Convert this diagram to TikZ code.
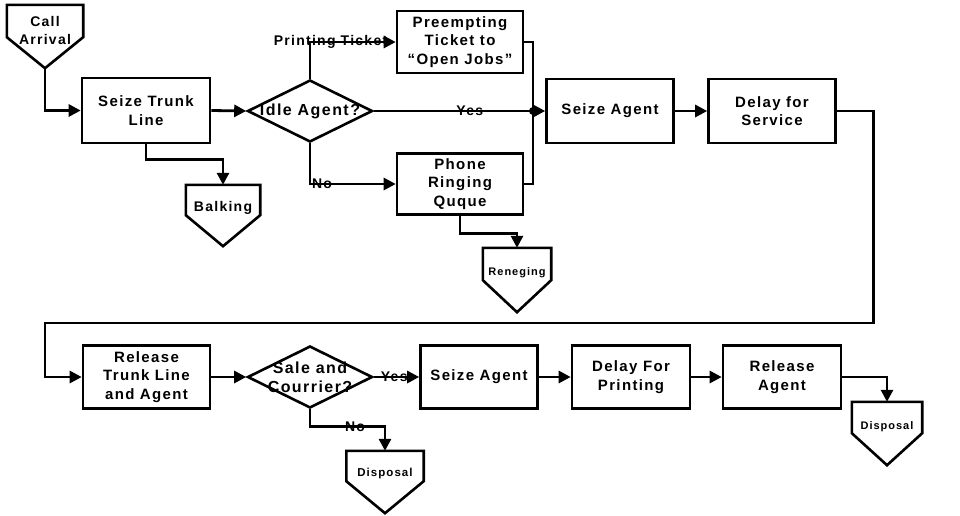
\documentclass[tikz,border=0pt]{standalone}
\usepackage{fontspec}
\setmainfont{Liberation Sans}[LetterSpace=9]
\usetikzlibrary{shapes.geometric,arrows.meta}

\tikzset{
    box/.style={rectangle,draw,line width=2.6pt,minimum width=127pt,minimum height=64pt,inner sep=0pt,align=center,font=\fontsize{15}{18.5}\selectfont\bfseries},
    dia/.style={diamond,draw,line width=2.6pt,minimum width=125pt,minimum height=62pt,inner sep=0pt},
    dtext/.style={align=center,inner sep=0pt,font=\fontsize{16}{19}\selectfont\bfseries},
    pent/.style={rectangle,inner sep=0pt},
    ptext/.style={align=center,inner sep=0pt,font=\fontsize{14}{18}\selectfont\bfseries},
    outline/.style={line width=2.6pt,line join=miter},
    flow/.style={line width=2.8pt,-{Triangle[length=12pt,width=12pt]}},
    lbl/.style={inner sep=0pt,font=\fontsize{14}{14}\selectfont\bfseries}
}

\begin{document}
\begin{tikzpicture}[x=1pt,y=-1pt]
    \fill[white] (0,0) rectangle (960,515);
    \useasboundingbox (0,0) rectangle (960,515);

    % first row
    \node[pent,minimum width=76pt,minimum height=63pt,label={[ptext,yshift=6.5pt]center:{Call\\Arrival}}] (arrival) at (45,36.5) {};
    \draw[outline] (arrival.north west) -- (arrival.north east) -- ([yshift=31pt]arrival.south east) -- (arrival.south) -- ([yshift=31pt]arrival.south west) -- cycle;
    \node[box,minimum width=128pt,minimum height=65pt] (trunk) at (146,110.5) {Seize Trunk\\Line};
    \node[dia,label={[dtext]center:Idle Agent?}] (idle) at (310,111) {};
    \node[box,minimum width=126pt,minimum height=62pt] (preempt) at (460,42) {Preempting\\Ticket to\\``Open Jobs''};
    \node[box,minimum width=126pt,minimum height=61pt] (phone) at (460,184) {Phone\\Ringing\\Ququе};
    \node[box] (seize) at (610,111) {Seize Agent};
    \node[box] (service) at (772,111) {Delay for\\Service};
    \coordinate (join) at (533,111);
    \coordinate (loop) at (45,323);

    % sinks of the first row
    \node[pent,minimum width=74pt,minimum height=61pt,label={[ptext,yshift=7.5pt]center:Balking}] (balk) at (223,215.5) {};
    \draw[outline] (balk.north west) -- (balk.north east) -- ([yshift=31pt]balk.south east) -- (balk.south) -- ([yshift=31pt]balk.south west) -- cycle;
    \node[pent,minimum width=68pt,minimum height=64pt,label={[ptext,font=\fontsize{11}{11}\selectfont\bfseries,yshift=7pt]center:Reneging}] (reneg) at (517,280) {};
    \draw[outline] (reneg.north west) -- (reneg.north east) -- ([yshift=32pt]reneg.south east) -- (reneg.south) -- ([yshift=32pt]reneg.south west) -- cycle;

    % second row
    \node[box,minimum height=63pt] (release) at (146.5,377) {Release\\Trunk Line\\and Agent};
    \node[dia,label={[dtext]center:{Sale and\\Courrier?}}] (courier) at (310,377) {};
    \node[box,minimum width=117pt,minimum height=63pt] (seize2) at (479,377) {Seize Agent};
    \node[box,minimum width=118pt,minimum height=63pt] (printing) at (631,377) {Delay For\\Printing};
    \node[box,minimum width=118pt,minimum height=63pt] (ragent) at (782,377) {Release\\Agent};
    \node[pent,minimum width=77pt,minimum height=62pt,label={[ptext,font=\fontsize{11.5}{11.5}\selectfont\bfseries,yshift=8pt]center:Disposal}] (disp1) at (385,482) {};
    \draw[outline] (disp1.north west) -- (disp1.north east) -- ([yshift=32pt]disp1.south east) -- (disp1.south) -- ([yshift=32pt]disp1.south west) -- cycle;
    \node[pent,minimum width=70pt,minimum height=63pt,label={[ptext,font=\fontsize{11}{11}\selectfont\bfseries,yshift=6.5pt]center:Disposal}] (disp2) at (887,433.5) {};
    \draw[outline] (disp2.north west) -- (disp2.north east) -- ([yshift=32pt]disp2.south east) -- (disp2.south) -- ([yshift=32pt]disp2.south west) -- cycle;

    % connectors
    \draw[flow] (arrival.south) |- (trunk.west);
    \draw[flow] (trunk.east) -- (idle.west);
    \draw[flow] (idle.north) |- node[lbl,pos=0.62] {Printing Ticket} (preempt.west);
    \draw[flow] (idle.south) |- node[lbl,pos=0.57] {No} (phone.west);
    \draw[flow] (idle.east) -- node[lbl,pos=0.56] {Yes} (seize.west);
    \draw[line width=2.8pt] (preempt.east) -| (join) |- (phone.east);
    \fill (join) circle (4pt);
    \draw[flow] (trunk.south) -- ++(0,15) -| (balk.north);
    \draw[flow] (phone.south) -- ++(0,18) -| (reneg.north);
    \draw[flow] (seize.east) -- (service.west);
    \draw[flow] (service.east) -- ++(37,0) |- (loop) |- (release.west);
    \draw[flow] (release.east) -- (courier.west);
    \draw[flow] (courier.east) -- node[lbl,pos=0.45] {Yes} (seize2.west);
    \draw[flow] (courier.south) -- ++(0,17) -| node[lbl,pos=0.3] {No} (disp1.north);
    \draw[flow] (seize2.east) -- (printing.west);
    \draw[flow] (printing.east) -- (ragent.west);
    \draw[flow] (ragent.east) -| (disp2.north);
\end{tikzpicture}
\end{document}
